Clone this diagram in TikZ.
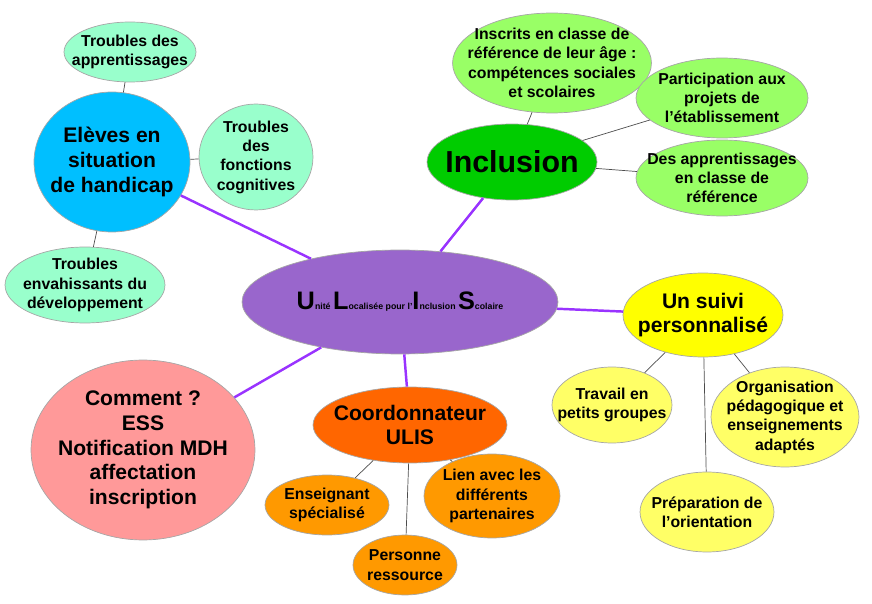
\documentclass[tikz,border=0pt]{standalone}
\usepackage{fontspec}
\setmainfont{Liberation Sans}
\usetikzlibrary{shapes.geometric}
\definecolor{ulis}{HTML}{9966CC}
\definecolor{cyanb}{HTML}{00BFFF}
\definecolor{mint}{HTML}{99FFCC}
\definecolor{incl}{HTML}{00CC00}
\definecolor{lgreen}{HTML}{99FF66}
\definecolor{suivi}{HTML}{FFFF00}
\definecolor{lyellow}{HTML}{FFFF66}
\definecolor{pink}{HTML}{FF9999}
\definecolor{coord}{HTML}{FF6600}
\definecolor{lorange}{HTML}{FF9900}
\definecolor{link}{HTML}{9933FF}
\tikzset{
  bubble/.style={ellipse, draw=gray!70, align=center, font=\bfseries, inner sep=-8pt},
  hub/.style={draw=link, line width=1.4pt},
  leaf/.style={draw=black!70, thin}
}
\begin{document}
\begin{tikzpicture}[x=0.02cm, y=-0.02cm]
    \useasboundingbox (0,0) rectangle (872,604);

    % centre
    \node[bubble, fill=ulis, minimum width=6.32cm, minimum height=2.08cm, inner sep=-20pt] (ulis) at (400,302)
      {{\Large U}{\tiny nité }{\Large L}{\tiny ocalisée pour l'}{\Large I}{\tiny nclusion }{\Large S}{\tiny colaire}};

    % Eleves
    \node[bubble, fill=cyanb, minimum width=3.12cm, minimum height=2.8cm, font=\bfseries\large] (eleves) at (112,162) {Elèves en\\situation\\de handicap};
    \node[bubble, fill=mint, minimum width=2.64cm, minimum height=1.2cm, font=\bfseries\small] (tapp) at (130,52) {Troubles des\\apprentissages};
    \node[bubble, fill=mint, minimum width=2.28cm, minimum height=2.12cm, font=\bfseries\small] (tfonc) at (256,157) {Troubles\\des\\fonctions\\cognitives};
    \node[bubble, fill=mint, minimum width=3.2cm, minimum height=1.52cm, font=\bfseries\small] (ted) at (85,285) {Troubles\\envahissants du\\développement};

    % Inclusion
    \node[bubble, fill=incl, minimum width=3.4cm, minimum height=1.52cm, font=\bfseries\LARGE] (incl) at (512,162) {Inclusion};
    \node[bubble, fill=lgreen, minimum width=3.8cm, minimum height=2cm, font=\bfseries\small] (inscr) at (552,63) {Inscrits en classe de\\référence de leur âge :\\compétences sociales\\et scolaires};
    \node[bubble, fill=lgreen, minimum width=3.44cm, minimum height=1.6cm, font=\bfseries\small] (part) at (722,98) {Participation aux\\projets de\\l'établissement};
    \node[bubble, fill=lgreen, minimum width=3.44cm, minimum height=1.52cm, font=\bfseries\small] (dapp) at (722,178) {Des apprentissages\\en classe de\\référence};

    % Suivi
    \node[bubble, fill=suivi, minimum width=3.2cm, minimum height=1.68cm, font=\bfseries\large] (suivi) at (703,315) {Un suivi\\personnalisé};
    \node[bubble, fill=lyellow, minimum width=2.4cm, minimum height=1.52cm, font=\bfseries\small] (trav) at (612,405) {Travail en\\petits groupes};
    \node[bubble, fill=lyellow, minimum width=2.96cm, minimum height=2cm, font=\bfseries\small] (orga) at (785,417) {Organisation\\pédagogique et\\enseignements\\adaptés};
    \node[bubble, fill=lyellow, minimum width=2.68cm, minimum height=1.6cm, font=\bfseries\small] (prep) at (707,512) {Préparation de\\l'orientation};

    % Comment
    \node[bubble, fill=pink, minimum width=4.48cm, minimum height=3.6cm, font=\bfseries\large, inner sep=-14pt] (comm) at (143,450) {Comment ?\\ESS\\Notification MDH\\affectation\\inscription};

    % Coordonnateur
    \node[bubble, fill=coord, minimum width=3.88cm, minimum height=1.52cm, font=\bfseries\large] (coord) at (410,425) {Coordonnateur\\ULIS};
    \node[bubble, fill=lorange, minimum width=2.48cm, minimum height=1.2cm, font=\bfseries\small] (ens) at (327,505) {Enseignant\\spécialisé};
    \node[bubble, fill=lorange, minimum width=2.72cm, minimum height=1.68cm, font=\bfseries\small] (lien) at (492,496) {Lien avec les\\différents\\partenaires};
    \node[bubble, fill=lorange, minimum width=2.08cm, minimum height=1.2cm, font=\bfseries\small] (pers) at (405,565) {Personne\\ressource};

    % links
    \draw[hub] (ulis) -- (eleves);
    \draw[hub] (ulis) -- (incl);
    \draw[hub] (ulis) -- (suivi);
    \draw[hub] (ulis) -- (comm);
    \draw[hub] (ulis) -- (coord);
    \draw[leaf] (eleves) -- (tapp);
    \draw[leaf] (eleves) -- (tfonc);
    \draw[leaf] (eleves) -- (ted);
    \draw[leaf] (incl) -- (inscr);
    \draw[leaf] (incl) -- (part);
    \draw[leaf] (incl) -- (dapp);
    \draw[leaf] (suivi) -- (trav);
    \draw[leaf] (suivi) -- (orga);
    \draw[leaf] (suivi) -- (prep);
    \draw[leaf] (coord) -- (ens);
    \draw[leaf] (coord) -- (lien);
    \draw[leaf] (coord) -- (pers);
\end{tikzpicture}
\end{document}
